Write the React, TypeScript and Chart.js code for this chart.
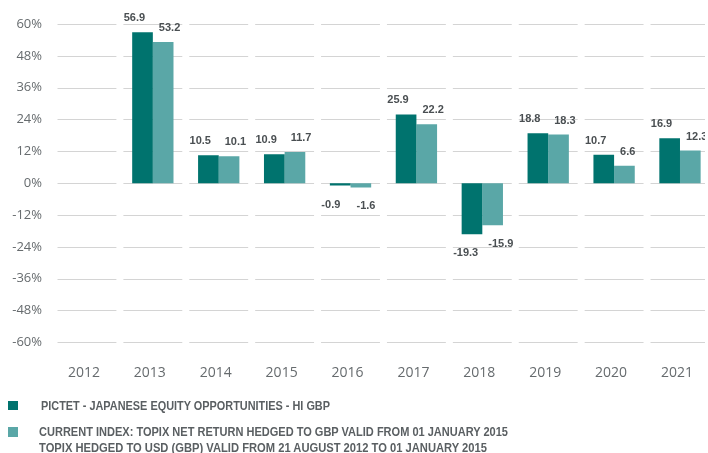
import React, { useEffect, useRef } from "react";
import { Chart, registerables } from "chart.js";

Chart.register(...registerables);

const years = ["2012", "2013", "2014", "2015", "2016", "2017", "2018", "2019", "2020", "2021"];
const fundName = "PICTET - JAPANESE EQUITY OPPORTUNITIES - HI GBP";
const indexNameLine1 = "CURRENT INDEX: TOPIX NET RETURN HEDGED TO GBP VALID FROM 01 JANUARY 2015";
const indexNameLine2 = "TOPIX HEDGED TO USD (GBP) VALID FROM 21 AUGUST 2012 TO 01 JANUARY 2015";
const fundValues: (number | null)[] = [null, 56.9, 10.5, 10.9, -0.9, 25.9, -19.3, 18.8, 10.7, 16.9];
const indexValues: (number | null)[] = [null, 53.2, 10.1, 11.7, -1.6, 22.2, -15.9, 18.3, 6.6, 12.3];
const yTicks = [-60, -48, -36, -24, -12, 0, 12, 24, 36, 48, 60];

const DARK = "#00736e";
const LIGHT = "#5aa7a7";

const segmentedGrid = {
  id: "segmentedGrid",
  beforeDatasetsDraw(chart: any) {
    const { ctx, scales } = chart;
    const x = scales.x;
    const y = scales.y;
    const n = years.length;
    const catW = (x.right - x.left) / n;
    ctx.save();
    ctx.strokeStyle = "#d4d4d4";
    ctx.lineWidth = 1;
    for (const t of yTicks) {
      const py = Math.round(y.getPixelForValue(t)) + 0.5;
      for (let i = 0; i < n; i++) {
        const cx = x.getPixelForValue(i);
        ctx.beginPath();
        ctx.moveTo(cx - catW / 2 + 3.5, py);
        ctx.lineTo(cx + catW / 2 - 3.5, py);
        ctx.stroke();
      }
    }
    ctx.restore();
  },
};

const valueLabels = {
  id: "valueLabels",
  afterDatasetsDraw(chart: any) {
    const { ctx } = chart;
    ctx.save();
    ctx.font = "bold 11px 'Liberation Sans', Arial, sans-serif";
    ctx.fillStyle = "#4a4f52";
    ctx.textAlign = "left";
    ctx.textBaseline = "middle";
    chart.data.datasets.forEach((ds: any, di: number) => {
      const meta = chart.getDatasetMeta(di);
      meta.data.forEach((el: any, i: number) => {
        const v = ds.data[i];
        if (v === null || v === undefined) return;
        const left = el.x - el.width / 2;
        const lx = di === 0 ? left - 8.5 : left + 6;
        const ly = v >= 0 ? el.y - 14 : el.y + 19;
        ctx.fillText(v.toFixed(1), lx, ly);
      });
    });
    ctx.restore();
  },
};

const legendTexts = [fundName, indexNameLine1, indexNameLine2];
const legendWidths = [289, 469, 448];

export default function App() {
  const ref = useRef<HTMLCanvasElement>(null);
  const textRefs = useRef<(HTMLSpanElement | null)[]>([]);
  useEffect(() => {
    textRefs.current.forEach((el, i) => {
      if (!el) return;
      el.style.transform = "none";
      const w = el.getBoundingClientRect().width;
      if (w > 0) el.style.transform = `scaleX(${legendWidths[i] / w})`;
    });
    if (!ref.current) return;
    const chart = new Chart(ref.current, {
      type: "bar",
      data: {
        labels: years,
        datasets: [
          { label: fundName, data: fundValues, backgroundColor: DARK, categoryPercentage: 0.627, barPercentage: 1 },
          { label: indexNameLine1, data: indexValues, backgroundColor: LIGHT, categoryPercentage: 0.627, barPercentage: 1 },
        ],
      },
      options: {
        responsive: false,
        animation: false,
        layout: { padding: { top: 24, right: 0, bottom: 0, left: 0 } },
        plugins: { legend: { display: false }, tooltip: { enabled: false } },
        scales: {
          x: {
            grid: { display: false, drawTicks: false },
            border: { display: false },
            ticks: {
              color: "#666b6e",
              font: { family: "'Open Sans', sans-serif", size: 14 },
              padding: 22,
              labelOffset: -3,
            },
            afterFit(scale: any) {
              scale.height = 110.7;
            },
          },
          y: {
            min: -60,
            max: 60,
            grid: { display: false, drawTicks: false },
            border: { display: false },
            ticks: {
              stepSize: 12,
              color: "#666b6e",
              font: { family: "'Open Sans', sans-serif", size: 13 },
              padding: 12,
              callback: (v: any) => `${v}%`,
            },
            afterFit(scale: any) {
              scale.width = 54;
            },
          },
        },
      },
      plugins: [segmentedGrid, valueLabels],
    });
    return () => chart.destroy();
  }, []);

  const textStyle: React.CSSProperties = {
    position: "absolute",
    fontFamily: "'Liberation Sans', Arial, sans-serif",
    fontWeight: "bold",
    fontSize: 12,
    color: "#5a5f62",
    whiteSpace: "nowrap",
    lineHeight: "16px",
    display: "inline-block",
    transformOrigin: "0 50%",
  };
  const pos = [
    { left: 41, top: 398 },
    { left: 39, top: 424 },
    { left: 39, top: 440 },
  ];

  return (
    <div style={{ position: "absolute", left: 0, top: 0, width: 705, height: 453, overflow: "hidden", background: "#fff" }}>
      <canvas ref={ref} width={718} height={453} style={{ display: "block", width: 718, height: 453 }} />
      <div style={{ position: "absolute", left: 8, top: 401, width: 10, height: 9, background: DARK }} />
      <div style={{ position: "absolute", left: 8, top: 427, width: 10, height: 10, background: LIGHT }} />
      {legendTexts.map((t, i) => (
        <span key={i} ref={(el) => { textRefs.current[i] = el; }} style={{ ...textStyle, ...pos[i] }}>
          {t}
        </span>
      ))}
    </div>
  );
}
